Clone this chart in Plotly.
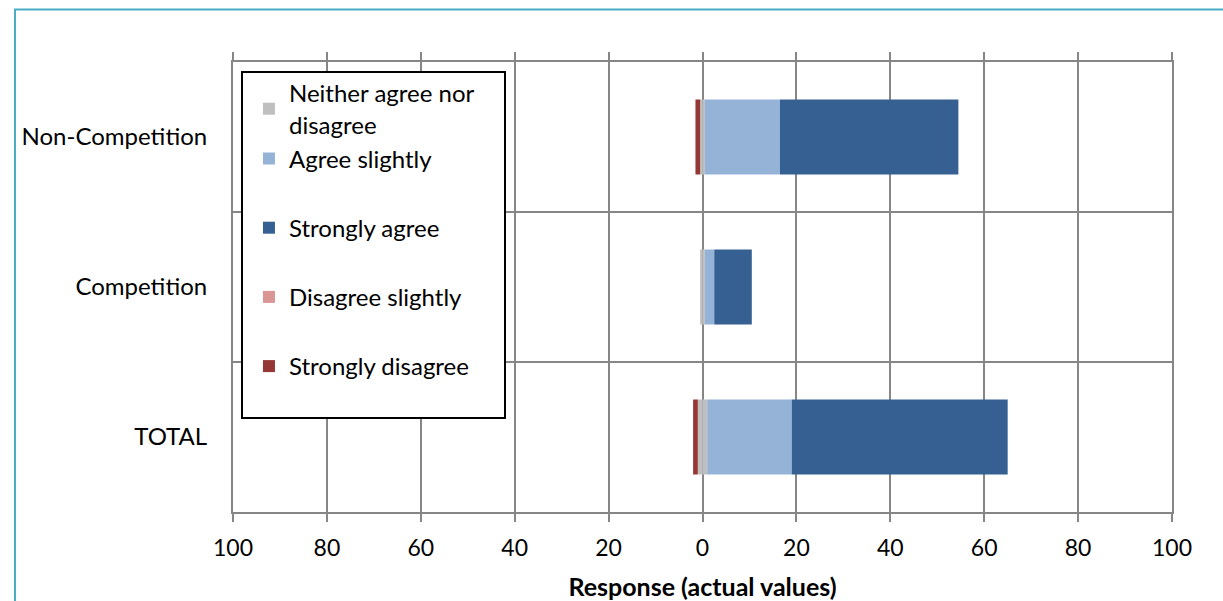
import plotly.graph_objects as go

# data
categories = ["Non-Competition", "Competition", "TOTAL"]
strongly_disagree = [1, 0, 1]
disagree_slightly = [0, 0, 0]
neither = [1, 1, 2]
agree_slightly = [16, 2, 18]
strongly_agree = [38, 8, 46]

tick_vals = [-100, -80, -60, -40, -20, 0, 20, 40, 60, 80, 100]
tick_text = ["100", "80", "60", "40", "20", "0", "20", "40", "60", "80", "100"]

FONT = "Lato"
GRID = "#868686"

fig = go.Figure()

# neutral answers are split in half around zero
fig.add_trace(go.Bar(y=categories, x=[-v / 2 for v in neither], orientation="h",
                     marker_color="#BFBFBF", name="Neither agree nor<br>disagree",
                     legendgroup="top", showlegend=False))
fig.add_trace(go.Bar(y=categories, x=[v / 2 for v in neither], orientation="h",
                     marker_color="#BFBFBF", name="Neither agree nor<br>disagree",
                     legendgroup="top"))
fig.add_trace(go.Bar(y=categories, x=agree_slightly, orientation="h",
                     marker_color="#95B3D7", name="Agree slightly", legendgroup="top"))
fig.add_trace(go.Bar(y=categories, x=strongly_agree, orientation="h",
                     marker_color="#376092", name="Strongly agree", legendgroup="sa"))
fig.add_trace(go.Bar(y=categories, x=[-v for v in disagree_slightly], orientation="h",
                     marker_color="#D99694", name="Disagree slightly", legendgroup="ds"))
fig.add_trace(go.Bar(y=categories, x=[-v for v in strongly_disagree], orientation="h",
                     marker_color="#953735", name="Strongly disagree", legendgroup="sd"))

fig.update_traces(marker_line_width=0)

fig.update_layout(
    width=1223, height=601,
    barmode="relative", bargap=0.5,
    plot_bgcolor="white", paper_bgcolor="white",
    font=dict(family=FONT, size=24, color="black"),
    margin=dict(l=233, r=51, t=62, b=89),
    legend=dict(x=0.017, y=0.98, xanchor="left", yanchor="top",
                traceorder="grouped", tracegroupgap=35,
                bgcolor="rgba(0,0,0,0)", borderwidth=0,
                font=dict(family=FONT, size=24)),
    xaxis=dict(range=[-100, 100], tickvals=tick_vals, ticktext=tick_text,
               tickfont=dict(size=23), automargin=False,
               showgrid=True, gridcolor=GRID, gridwidth=2, zeroline=False,
               showline=True, linecolor=GRID, linewidth=2, mirror="ticks",
               ticks="outside", ticklen=8, tickwidth=2, tickcolor=GRID,
               ticklabelstandoff=6,
               title=dict(text="<b>Response (actual values)</b>", standoff=21,
                          font=dict(family=FONT, size=25))),
    yaxis=dict(type="category", autorange="reversed", tickson="boundaries",
               automargin=False,
               showgrid=True, gridcolor=GRID, gridwidth=2,
               showline=True, linecolor=GRID, linewidth=2, mirror=True,
               ticks="", ticklabelstandoff=19),
    shapes=[
        # legend box
        dict(type="rect", xref="paper", yref="paper",
             x0=(242 - 233) / 939, x1=(505 - 233) / 939,
             y0=1 - (418 - 62) / 450, y1=1 - (72 - 62) / 450,
             line=dict(color="black", width=2), fillcolor="white", layer="above"),
        # outer chart border
        dict(type="rect", xref="paper", yref="paper",
             x0=(15 - 233) / 939, x1=(1235 - 233) / 939,
             y0=1 - (620 - 62) / 450, y1=1 + (62 - 9.5) / 450,
             line=dict(color="#4BACC6", width=2), fillcolor="rgba(0,0,0,0)"),
    ],
)

fig.write_html("out.html", config={"displayModeBar": False},
               post_script="document.body.style.margin='0px';")
